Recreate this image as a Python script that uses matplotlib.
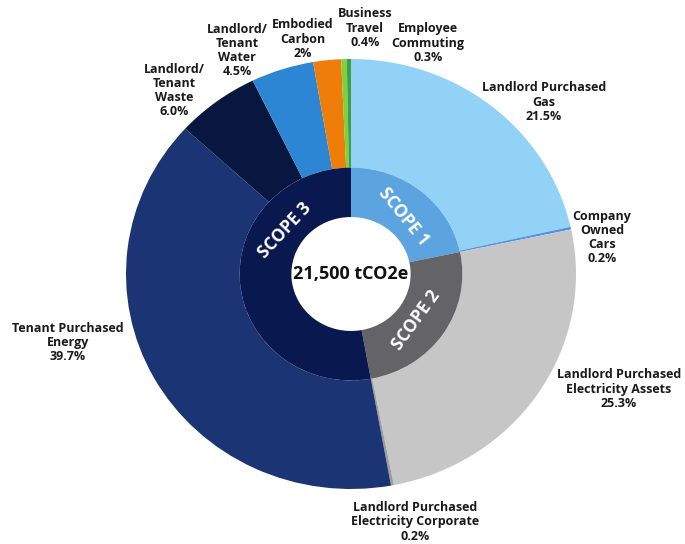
import matplotlib
matplotlib.use('Agg')
import matplotlib.pyplot as plt

plt.rcParams['font.family'] = ['Open Sans', 'DejaVu Sans']

# outer ring, clockwise from 12 o'clock
categories = ['Landlord Purchased\nGas', 'Company\nOwned\nCars',
              'Landlord Purchased\nElectricity Assets',
              'Landlord Purchased\nElectricity Corporate',
              'Tenant Purchased\nEnergy', 'Landlord/\nTenant\nWaste',
              'Landlord/\nTenant\nWater', 'Embodied\nCarbon',
              'Business\nTravel', 'Employee\nCommuting']
shares = [21.5, 0.2, 25.3, 0.2, 39.7, 6.0, 4.5, 2.0, 0.4, 0.3]
share_labels = ['21.5%', '0.2%', '25.3%', '0.2%', '39.7%', '6.0%', '4.5%', '2%', '0.4%', '0.3%']
outer_colors = ['#93d2f7', '#4f95dd', '#c6c6c6', '#9c9ca2', '#1b3473',
                '#08173f', '#2d86d3', '#ee7d0a', '#7fd13b', '#3f9e4a']

# inner ring
scopes = ['SCOPE 1', 'SCOPE 2', 'SCOPE 3']
scope_shares = [21.7, 25.5, 52.9]
scope_colors = ['#5ba4df', '#646466', '#0a1850']
total_label = '21,500 tCO2e'

# text positions (data units, outer radius = 1)
label_pos = [(0.858, 0.80), (1.115, 0.17), (1.19, -0.535), (0.284, -1.153),
             (-1.258, -0.32), (-0.787, 0.853), (-0.507, 1.04), (-0.213, 1.093),
             (0.062, 1.144), (0.342, 1.074)]
scope_pos = [(0.235, 0.265), (0.29, -0.215), (-0.295, 0.205)]
scope_rot = [-51, 54, 47]

fig = plt.figure(figsize=(6.85, 5.44), dpi=100)
ax = fig.add_axes([0, 0, 1, 1])

ax.pie(shares, radius=1.0, colors=outer_colors, startangle=90, counterclock=False,
       wedgeprops=dict(width=0.505, linewidth=0))
ax.pie(scope_shares, radius=0.495, colors=scope_colors, startangle=90, counterclock=False,
       wedgeprops=dict(width=0.23, linewidth=0))

ax.set_aspect('auto')
ax.set_xlim(-351 / 225, (685 - 351) / 225)
ax.set_ylim(-(544 - 274) / 215, 274 / 215)
ax.axis('off')

for (x, y), cat, pct in zip(label_pos, categories, share_labels):
    ax.text(x, y, cat + '\n' + pct, ha='center', va='center', fontsize=9,
            fontweight='bold', color='#1a1a1a', linespacing=1.12)

for (x, y), s, r in zip(scope_pos, scopes, scope_rot):
    ax.text(x, y, s, ha='center', va='center', fontsize=12.5, fontweight='bold',
            color='white', rotation=r, rotation_mode='anchor')

ax.text(0, 0, total_label, ha='center', va='center', fontsize=13,
        fontweight='bold', color='#111111')

fig.savefig('out.png', dpi=100)
